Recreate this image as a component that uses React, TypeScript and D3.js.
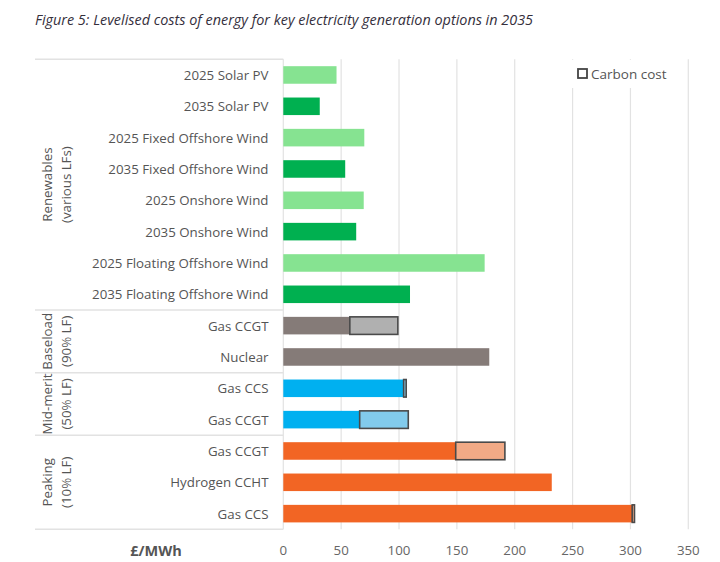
import React from "react";
import * as d3 from "d3";

const categories = [
  "2025 Solar PV",
  "2035 Solar PV",
  "2025 Fixed Offshore Wind",
  "2035 Fixed Offshore Wind",
  "2025 Onshore Wind",
  "2035 Onshore Wind",
  "2025 Floating Offshore Wind",
  "2035 Floating Offshore Wind",
  "Gas CCGT",
  "Nuclear",
  "Gas CCS",
  "Gas CCGT",
  "Gas CCGT",
  "Hydrogen CCHT",
  "Gas CCS",
];
const baseValues = [46, 31.5, 70, 53.5, 69.5, 63, 174, 109.5, 57.5, 178, 104, 66, 149, 232, 301.5];
const carbonValues = [0, 0, 0, 0, 0, 0, 0, 0, 41.5, 0, 2.2, 42, 42.5, 0, 2];
const baseColors = [
  "#86e391", "#00b050", "#86e391", "#00b050", "#86e391", "#00b050", "#86e391", "#00b050",
  "#857b78", "#857b78", "#00b0f0", "#00b0f0", "#f26524", "#f26524", "#f26524",
];
const carbonColors = [
  "", "", "", "", "", "", "", "", "#b0b0b0", "", "#82cbec", "#82cbec", "#f2aa86", "", "#f2aa86",
];
const groupTitles = ["Renewables", "Baseload", "Mid-merit", "Peaking"];
const groupSubtitles = ["(various LFs)", "(90% LF)", "(50% LF)", "(10% LF)"];
const groupSizes = [8, 2, 2, 3];
const xTicks = [0, 50, 100, 150, 200, 250, 300, 350];

const FONT = "'Open Sans', 'DejaVu Sans', sans-serif";

export default function App() {
  const x = d3.scaleLinear().domain([0, 350]).range([283.3, 688.3]);
  const y = d3
    .scaleBand<number>()
    .domain(d3.range(categories.length))
    .range([59.3, 529.3])
    .paddingInner(0.44)
    .paddingOuter(0.22);
  const step = y.step();
  const top = 59.3;
  const bottom = 529.3;

  const bounds: number[] = [0];
  groupSizes.forEach((s, i) => bounds.push(bounds[i] + s));

  return (
    <svg
      width={720}
      height={562}
      style={{ position: "absolute", left: 0, top: 0, background: "#fff" }}
      fontFamily={FONT}
    >
      <rect x={0} y={0} width={720} height={562} fill="#fff" />
      <text x={35} y={25} fontSize={14.4} fontStyle="italic" fill="#352f3c">
        Figure 5: Levelised costs of energy for key electricity generation options in 2035
      </text>

      {/* gridlines */}
      {xTicks.map((t) => (
        <line key={t} x1={x(t)} x2={x(t)} y1={top} y2={bottom} stroke="#e2e2e2" strokeWidth={1.2} />
      ))}

      {/* group separators */}
      {bounds.map((b, i) => (
        <line
          key={"sep" + i}
          x1={35}
          x2={283.3}
          y1={top + b * step}
          y2={top + b * step}
          stroke="#e2e2e2"
          strokeWidth={1.5}
        />
      ))}

      {/* group labels */}
      {groupTitles.map((g, i) => {
        const cy = top + ((bounds[i] + bounds[i + 1]) / 2) * step;
        return (
          <g key={"g" + i} transform={`translate(0,${cy})`}>
            <text
              transform={`translate(47,0) rotate(-90)`}
              textAnchor="middle"
              dominantBaseline="central"
              fontSize={13.3}
              fill="#555"
            >
              {g}
            </text>
            <text
              transform={`translate(65.5,0) rotate(-90)`}
              textAnchor="middle"
              dominantBaseline="central"
              fontSize={13.3}
              fill="#555"
            >
              {groupSubtitles[i]}
            </text>
          </g>
        );
      })}

      {/* category labels */}
      {categories.map((c, i) => (
        <text
          key={"c" + i}
          x={268.5}
          y={(y(i) as number) + y.bandwidth() / 2}
          textAnchor="end"
          dominantBaseline="central"
          fontSize={13.3}
          fill="#555"
        >
          {c}
        </text>
      ))}

      {/* legend background */}
      <rect x={572} y={60} width={110} height={28} fill="#fff" />
      <rect x={578} y={69} width={9} height={9} fill="#fff" stroke="#444" strokeWidth={1.8} />
      <text x={591} y={74} dominantBaseline="central" fontSize={13.5} fill="#555">
        Carbon cost
      </text>

      {/* bars */}
      {categories.map((c, i) => {
        const yy = y(i) as number;
        const h = y.bandwidth();
        return (
          <g key={"b" + i}>
            <rect
              x={x(0)}
              y={yy}
              width={x(baseValues[i]) - x(0)}
              height={h}
              fill={baseColors[i]}
            />
            {carbonValues[i] > 0 && (
              <rect
                x={x(baseValues[i])}
                y={yy}
                width={x(baseValues[i] + carbonValues[i]) - x(baseValues[i])}
                height={h}
                fill={carbonColors[i]}
                stroke="#4a4a4a"
                strokeWidth={1.6}
              />
            )}
          </g>
        );
      })}

      {/* x axis labels */}
      {xTicks.map((t) => (
        <text key={"t" + t} x={x(t)} y={550} textAnchor="middle" dominantBaseline="central" fontSize={13.3} fill="#666">
          {t}
        </text>
      ))}
      <text x={156} y={550} textAnchor="middle" dominantBaseline="central" fontSize={14.5} fontWeight="bold" fill="#555">
        £/MWh
      </text>
    </svg>
  );
}
